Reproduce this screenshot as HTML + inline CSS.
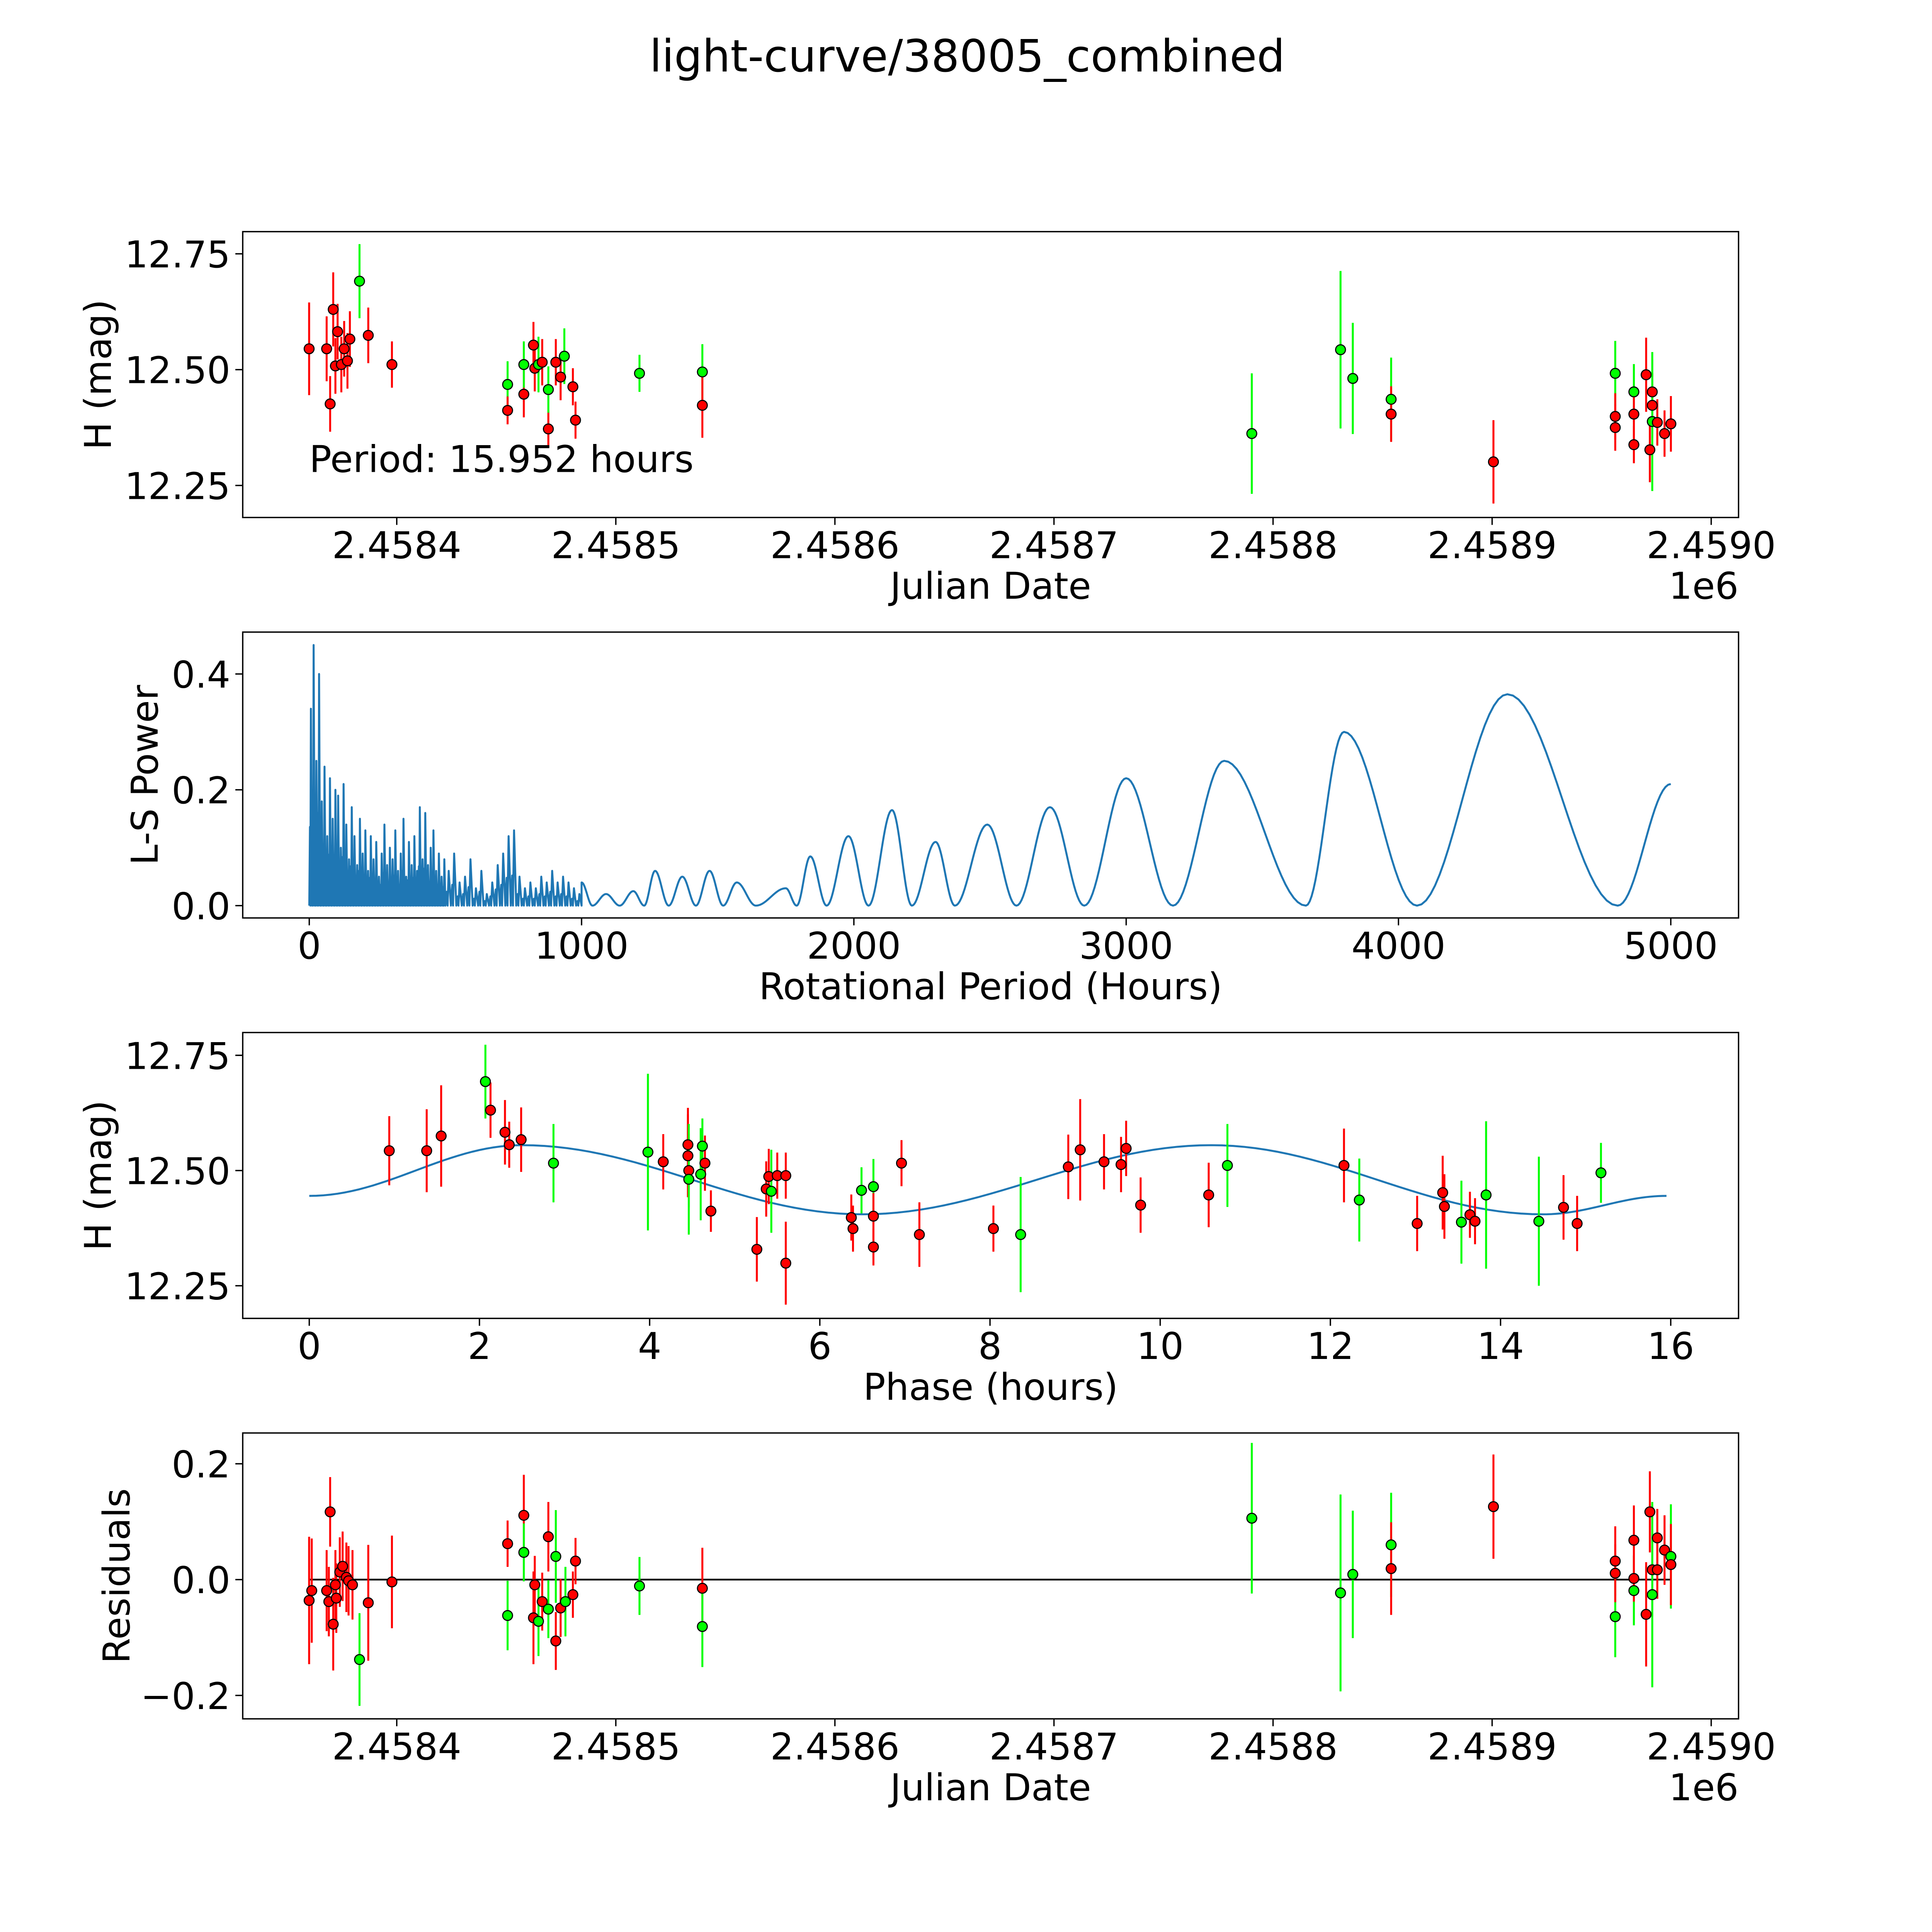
<!DOCTYPE html>
<html><head><meta charset="utf-8"><style>
html,body{margin:0;padding:0;background:#fff;overflow:hidden;width:100%;height:100%;}
svg{display:block;position:fixed;left:0;top:0;width:100vw;height:100vh;font-family:"DejaVu Sans","Liberation Sans",sans-serif;}
</style></head><body>
<svg id="fig" viewBox="0 0 1568 1568" preserveAspectRatio="none" xmlns="http://www.w3.org/2000/svg">
<rect width="1568" height="1568" fill="#fff"/>
<text x="785" y="58" font-size="36" text-anchor="middle">light-curve/38005_combined</text>
</svg>
<script>
// ---- Panel 1: light curve data ----
const lcJD = [2458360,2458368,2458369.6,2458371,2458372,2458373,2458374.7,2458376,2458377.5,2458378.6,2458387,2458397.8,2458383,2458450.6,2458450.6,2458458,2458458,2458462.4,2458463,2458464.7,2458466.4,2458469.2,2458469.2,2458472.6,2458474.8,2458476.5,2458480.4,2458481.6,2458510.8,2458539.5,2458539.5,2458790.3,2458830.8,2458836.4,2458853.9,2458853.9,2458900.6,2458956.2,2458956.2,2458956.2,2458964.7,2458964.7,2458964.7,2458970.3,2458972,2458973.1,2458973.1,2458973.1,2458975.4,2458978.7,2458981.6];
const lcMag = [12.545,12.545,12.426,12.630,12.508,12.582,12.511,12.545,12.519,12.566,12.574,12.511,12.691,12.468,12.412,12.447,12.511,12.553,12.503,12.511,12.516,12.372,12.457,12.516,12.484,12.529,12.463,12.391,12.492,12.495,12.423,12.362,12.543,12.481,12.436,12.404,12.301,12.492,12.399,12.375,12.452,12.404,12.338,12.489,12.327,12.423,12.452,12.388,12.386,12.362,12.383];
const lcErr = [0.10,0.07,0.06,0.08,0.06,0.06,0.06,0.06,0.06,0.06,0.06,0.05,0.08,0.05,0.03,0.05,0.05,0.05,0.05,0.06,0.05,0.04,0.05,0.05,0.05,0.06,0.04,0.04,0.04,0.06,0.07,0.13,0.17,0.12,0.09,0.06,0.09,0.07,0.05,0.05,0.06,0.05,0.04,0.08,0.07,0.07,0.07,0.15,0.05,0.05,0.06];
const lcCol = "rrrrrrrrrrrrggrrgrrgrrgrrgrrggrggggrrgrrgrrrrrrgrrr".split("");

// ---- Panel 2: periodogram ----
const lsNoisyStep = [10,20];
const lsNoisy = [0.34,0.45,0.25,0.40,0.18,0.24,0.12,0.22,0.15,0.20,
0.19,0.10,0.21,0.14,0.08,0.17,0.12,0.07,0.15,0.09,
0.13,0.06,0.12,0.08,0.11,0.05,0.09,0.14,0.07,0.10,
0.08,0.13,0.06,0.09,0.15,0.05,0.11,0.07,0.12,0.06,
0.17,0.08,0.16,0.07,0.10,0.13,0.06,0.09,0.05,0.08,
0.06,0.09,0.04,0.05,0.08,0.03,0.06,0.02,0.04,0.07,0.09,0.12,0.13,0.05,0.03,0.04,0.03,0.05,0.04,0.06,0.04,0.05,0.04,0.03,0.02];
const lsPeriod = [1000,1040,1090,1140,1190,1230,1270,1320,1370,1420,1470,1520,1570,1640,1750,1790,1840,1900,1980,2054,2140,2213,2300,2371,2490,2597,2720,2846,3000,3172,3360,3660,3800,4068,4400,4805,5000];
const lsPower = [0.04,0.0,0.02,0.0,0.025,0.0,0.06,0.0,0.05,0.0,0.06,0.0,0.04,0.0,0.03,0.0,0.085,0.0,0.12,0.0,0.165,0.0,0.11,0.0,0.14,0.0,0.17,0.0,0.22,0.0,0.25,0.0,0.30,0.0,0.365,0.0,0.21];

// ---- Panel 3: phased data ----
const phX = [0.94,1.38,1.55,2.07,2.13,2.30,2.35,2.49,2.87,3.98,4.16,4.45,4.45,4.46,4.46,4.62,4.65,4.60,4.72,5.26,5.37,5.40,5.43,5.50,5.60,5.60,6.37,6.39,6.49,6.63,6.63,6.63,6.96,7.17,8.04,8.36,8.92,9.06,9.34,9.54,9.60,9.77,10.57,10.79,12.16,12.34,13.02,13.32,13.34,13.54,13.64,13.70,13.83,14.45,14.74,14.90,15.18];
const phMag = [12.543,12.543,12.575,12.693,12.631,12.583,12.556,12.567,12.516,12.540,12.519,12.556,12.532,12.500,12.481,12.553,12.516,12.492,12.412,12.329,12.460,12.487,12.455,12.489,12.489,12.299,12.398,12.374,12.457,12.465,12.401,12.334,12.516,12.361,12.374,12.361,12.508,12.545,12.519,12.513,12.548,12.425,12.447,12.511,12.511,12.436,12.385,12.452,12.422,12.388,12.404,12.390,12.447,12.390,12.420,12.385,12.495];
const phCol = "rrrgrrrrggrrrrggrgrrrrgrrrrrggrrrrrgrrrrrrrgrgrrrgrrggrrg".split("");
const phErr = [0.075,0.09,0.11,0.08,0.06,0.07,0.05,0.07,0.085,0.17,0.06,0.08,0.09,0.08,0.12,0.06,0.06,0.10,0.045,0.07,0.06,0.06,0.09,0.05,0.05,0.09,0.05,0.05,0.05,0.06,0.05,0.04,0.05,0.07,0.05,0.125,0.07,0.11,0.06,0.06,0.06,0.06,0.07,0.09,0.08,0.09,0.06,0.08,0.07,0.09,0.05,0.05,0.16,0.14,0.07,0.06,0.065];
const fitPhase = [0,2.5,6.5,10.6,14.5,15.95];
const fitMag = [12.445,12.555,12.405,12.555,12.405,12.445];

// ---- Panel 4: residuals ----
const rsJD = [2458360,2458361.2,2458368,2458369.6,2458369,2458371,2458372,2458372.4,2458374,2458375.3,2458377,2458378,2458379.8,2458383,2458387,2458397.8,2458450.6,2458450.6,2458458,2458458,2458462.4,2458463,2458464.7,2458466.4,2458469.2,2458469.2,2458472.6,2458472.6,2458474.8,2458477,2458480.4,2458481.6,2458510.8,2458539.5,2458539.5,2458790.3,2458830.8,2458836.4,2458853.9,2458853.9,2458900.6,2458956.2,2458956.2,2458956.2,2458964.7,2458964.7,2458964.7,2458970.3,2458972,2458973.1,2458973.1,2458975.4,2458975.4,2458978.7,2458981.6,2458981.6];
const rsVal = [-0.036,-0.019,-0.019,0.117,-0.038,-0.077,-0.009,-0.032,0.013,0.023,0.004,-0.002,-0.009,-0.138,-0.040,-0.004,-0.062,0.062,0.111,0.047,-0.066,-0.009,-0.072,-0.038,0.074,-0.051,-0.106,0.040,-0.049,-0.038,-0.026,0.032,-0.011,-0.015,-0.081,0.106,-0.023,0.009,0.060,0.019,0.126,0.032,-0.064,0.011,0.068,-0.019,0.002,-0.060,0.117,0.017,-0.026,0.072,0.017,0.051,0.040,0.026];
const rsCol = "rrrrrrrrrrrrrgrrgrrgrrgrrgrgrgrrgrgggggrrrgrrgrrrrgrrrgr".split("");
const rsErr = [0.11,0.09,0.07,0.06,0.06,0.08,0.06,0.06,0.06,0.06,0.06,0.06,0.06,0.08,0.1,0.08,0.06,0.04,0.07,0.05,0.08,0.05,0.06,0.05,0.06,0.05,0.05,0.08,0.05,0.06,0.04,0.04,0.05,0.07,0.07,0.13,0.17,0.11,0.09,0.08,0.09,0.06,0.07,0.05,0.06,0.06,0.04,0.09,0.07,0.07,0.16,0.05,0.05,0.06,0.09,0.07];

const svg = document.getElementById('fig');
const NS = 'http://www.w3.org/2000/svg';
function mk(tag, attrs, parent){
  const e = document.createElementNS(NS, tag);
  for (const k in attrs) e.setAttribute(k, attrs[k]);
  (parent||svg).appendChild(e);
  return e;
}
const L = 197, R = 1411;
const FS = 30;
const jdX = v => 322 + (v - 2458400) * 1.778;

function frame(top, name){
  const g = mk('g', {});
  
  
  const r = mk('rect', {x:L, y:top, width:R-L, height:232, fill:'none', stroke:'#000', 'stroke-width':1.1}, g);
  
  
  return g;
}
function xTicks(g, top, vals, labels, fx){
  const b = top + 232;
  vals.forEach((v,i)=>{
    const x = fx(v);
    mk('line', {x1:x, x2:x, y1:b, y2:b+6, stroke:'#000', 'stroke-width':1.1}, g);
    const t = mk('text', {x:x, y:b+33, 'font-size':FS, 'text-anchor':'middle'}, g);
    t.textContent = labels[i];
    
    
  });
}
function yTicks(g, vals, labels, fy){
  vals.forEach((v,i)=>{
    const y = fy(v);
    mk('line', {x1:L-6, x2:L, y1:y, y2:y, stroke:'#000', 'stroke-width':1.1}, g);
    const t = mk('text', {x:L-10, y:y+11, 'font-size':FS, 'text-anchor':'end'}, g);
    t.textContent = labels[i];
    
    
  });
}
function xLabel(g, top, txt){
  const t = mk('text', {x:804, y:top+232+66, 'font-size':FS, 'text-anchor':'middle'}, g);
  t.textContent = txt;
  
  
}
function yLabel(g, top, x, txt){
  const cy = top + 116;
  const t = mk('text', {x:x, y:cy, 'font-size':FS, 'text-anchor':'middle', transform:`rotate(-90 ${x} ${cy})`}, g);
  t.textContent = txt;
  
  
}
function offsetText(g, top){
  const t = mk('text', {x:R, y:top+232+66, 'font-size':FS, 'text-anchor':'end'}, g);
  t.textContent = '1e6';
  
  
}
function points(g, xs, ys, es, cs, fx, fy){
  const eb = mk('g', {}, g);
  
  
  const pg = mk('g', {}, g);
  
  
  xs.forEach((xv,i)=>{
    const x = fx(xv), col = cs[i]==='g' ? '#00ff00' : '#ff0000';
    const l = mk('line', {x1:x, x2:x, y1:fy(ys[i]-es[i]), y2:fy(ys[i]+es[i]), stroke:col, 'stroke-width':1.6}, eb);
    
    
  });
  xs.forEach((xv,i)=>{
    const col = cs[i]==='g' ? '#00ff00' : '#ff0000';
    const c = mk('circle', {cx:fx(xv), cy:fy(ys[i]), r:4, fill:col, stroke:'#000', 'stroke-width':0.9}, pg);
    
    
  });
}
const jdTicks = [2458400,2458500,2458600,2458700,2458800,2458900,2459000];
const jdLabels = ['2.4584','2.4585','2.4586','2.4587','2.4588','2.4589','2.4590'];

// Panel 1
{
  const top = 188, fy = v => 300 + (12.5 - v) * 376;
  const g = frame(top, 'light-curve-panel');
  points(g, lcJD, lcMag, lcErr, lcCol, jdX, fy);
  xTicks(g, top, jdTicks, jdLabels, jdX);
  yTicks(g, [12.25,12.5,12.75], ['12.25','12.50','12.75'], fy);
  xLabel(g, top, 'Julian Date'); offsetText(g, top);
  yLabel(g, top, 90, 'H (mag)');
  const t = mk('text', {x:251, y:383, 'font-size':FS}, g);
  t.textContent = 'Period: 15.952 hours';
  
  
}
// Panel 2
{
  const top = 513, fx = v => 251 + v * 0.221, fy = v => 735 - v * 470;
  const g = frame(top, 'periodogram-panel');
  let d = `M${fx(0)},${fy(0)}`;
  let p = 0;
  lsNoisy.forEach((v,i)=>{
    const step = p < 500 ? lsNoisyStep[0] : lsNoisyStep[1];
    d += ` L${fx(p+step*0.25)},${fy(v*0.4)} L${fx(p+step*0.4)},${fy(0)} L${fx(p+step*0.6)},${fy(v)} L${fx(p+step)},${fy(0)}`;
    p += step;
  });
  for (let i=0;i<lsPeriod.length-1;i++){
    const x0=lsPeriod[i], x1=lsPeriod[i+1], y0=lsPower[i], y1=lsPower[i+1];
    for (let k=0;k<=20;k++){
      const t=k/20, s=(1-Math.cos(Math.PI*t))/2;
      d += ` L${fx(x0+(x1-x0)*t).toFixed(2)},${fy(y0+(y1-y0)*s).toFixed(2)}`;
    }
  }
  const path = mk('path', {d:d, fill:'none', stroke:'#1f77b4', 'stroke-width':1.6, 'stroke-linejoin':'round'}, g);
  
  
  xTicks(g, top, [0,1000,2000,3000,4000,5000], ['0','1000','2000','3000','4000','5000'], fx);
  yTicks(g, [0,0.2,0.4], ['0.0','0.2','0.4'], fy);
  xLabel(g, top, 'Rotational Period (Hours)');
  yLabel(g, top, 128, 'L-S Power');
}
// Panel 3
{
  const top = 838, fx = v => 251 + v * 69.06, fy = v => 950 + (12.5 - v) * 374;
  const g = frame(top, 'phase-folded-panel');
  let d = '';
  for (let i=0;i<fitPhase.length-1;i++){
    const x0=fitPhase[i], x1=fitPhase[i+1], y0=fitMag[i], y1=fitMag[i+1];
    for (let k=0;k<=30;k++){
      const t=k/30, s=(1-Math.cos(Math.PI*t))/2;
      d += (d?' L':'M') + `${fx(x0+(x1-x0)*t).toFixed(2)},${fy(y0+(y1-y0)*s).toFixed(2)}`;
    }
  }
  const path = mk('path', {d:d, fill:'none', stroke:'#1f77b4', 'stroke-width':1.6}, g);
  
  
  points(g, phX, phMag, phErr, phCol, fx, fy);
  xTicks(g, top, [0,2,4,6,8,10,12,14,16], ['0','2','4','6','8','10','12','14','16'], fx);
  yTicks(g, [12.25,12.5,12.75], ['12.25','12.50','12.75'], fy);
  xLabel(g, top, 'Phase (hours)');
  yLabel(g, top, 90, 'H (mag)');
}
// Panel 4
{
  const top = 1163, fy = v => 1282 - v * 470;
  const g = frame(top, 'residuals-panel');
  const zl = mk('line', {x1:jdX(2458360), x2:jdX(2458981.6), y1:fy(0), y2:fy(0), stroke:'#000', 'stroke-width':1.4}, g);
  
  
  points(g, rsJD, rsVal, rsErr, rsCol, jdX, fy);
  xTicks(g, top, jdTicks, jdLabels, jdX);
  yTicks(g, [-0.2,0,0.2], ['\u22120.2','0.0','0.2'], fy);
  xLabel(g, top, 'Julian Date'); offsetText(g, top);
  yLabel(g, top, 105, 'Residuals');
}
</script>
</body></html>
